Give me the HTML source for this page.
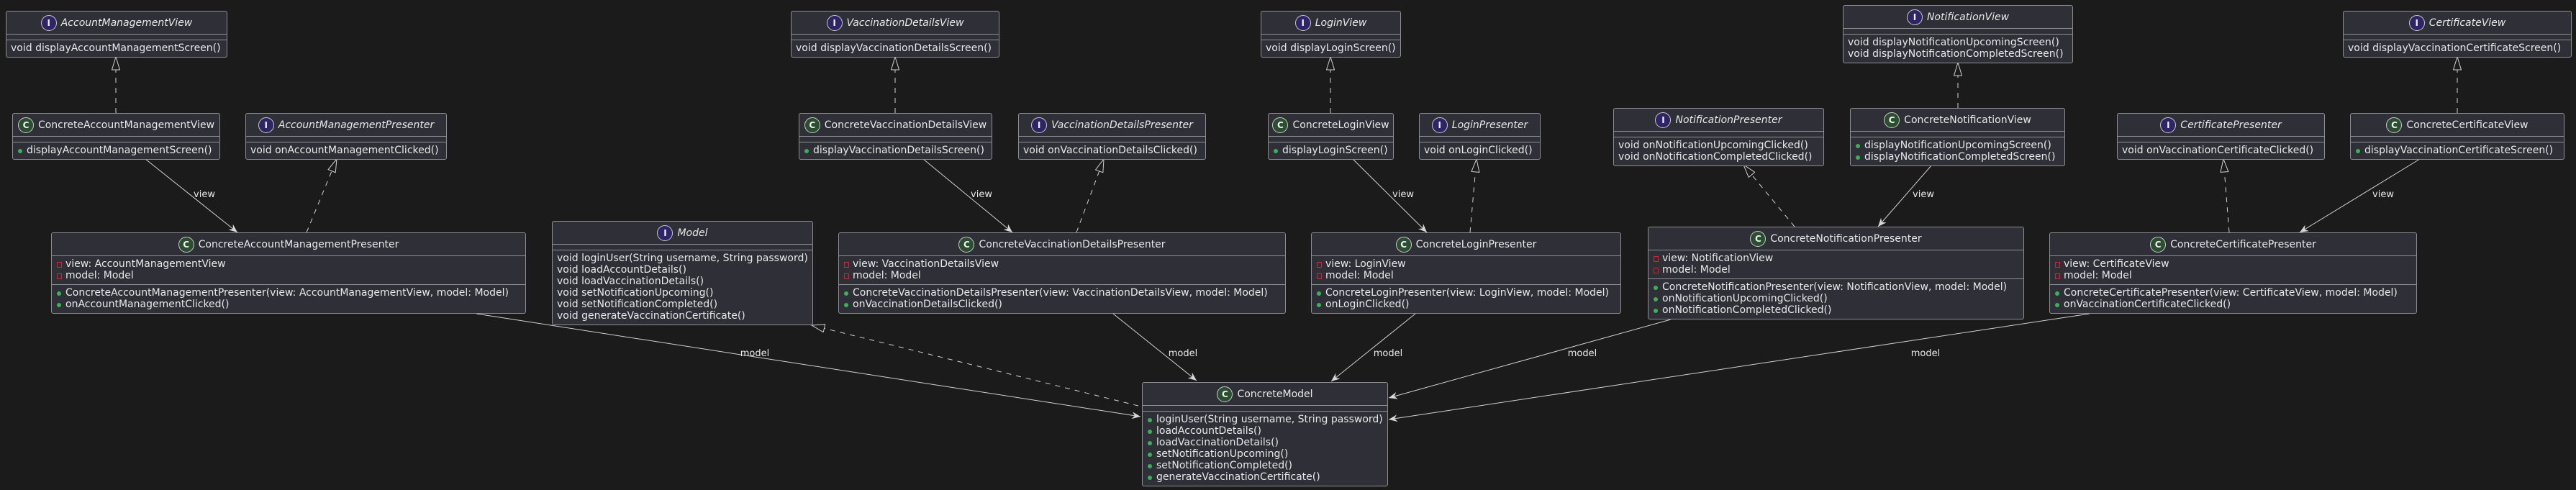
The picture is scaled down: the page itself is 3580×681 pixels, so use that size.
<!DOCTYPE html>
<html><head><meta charset="utf-8">
<style>
html,body{margin:0;padding:0;background:#1b1b1b;}
body{width:3580px;height:681px;position:relative;overflow:hidden;font-family:"DejaVu Sans","Liberation Sans",sans-serif;font-size:14px;color:#e8e8e8;}
.b{position:absolute;border:1px solid #8e8e92;background:#2f2f38;border-radius:3px;box-sizing:border-box;}
.h{height:31px;display:flex;align-items:center;justify-content:center;white-space:nowrap;}
.h i{font-style:italic;}
.ic{width:20px;height:20px;border-radius:50%;border:1px solid #c8c8c8;display:inline-flex;align-items:center;justify-content:center;font-weight:bold;font-size:12px;margin-right:6px;color:#f0f0f0;font-style:normal;flex:none;}
.I{background:#2e2466;}
.C{background:#2b4e30;}
.s{border-top:1px solid #8e8e92;padding:3px 0 4px 6px;line-height:16px;white-space:nowrap;}
.e{border-top:1px solid #8e8e92;height:7px;}
.v{padding-left:18px;position:relative;}
.p::before{content:"";position:absolute;left:-12px;top:6px;width:6px;height:6px;border-radius:50%;background:#3fae5a;}
.r::before{content:"";position:absolute;left:-12px;top:5px;width:5px;height:6px;border:1px solid #d5262e;}
.s div{position:relative;}
.s.v{padding-left:19px;}
svg{position:absolute;left:0;top:0;}
.lbl{font-family:"DejaVu Sans","Liberation Sans",sans-serif;font-size:13px;fill:#e8e8e8;}
</style></head><body>
<svg width="3580" height="681">
<defs>
<marker id="arr" viewBox="0 0 12 10" refX="12" refY="5" markerWidth="12" markerHeight="10" markerUnits="userSpaceOnUse" orient="auto"><path d="M0,0 L12,5 L0,10 L4,5 Z" fill="#d8d8d8"/></marker>
<marker id="tri" viewBox="0 0 20 12" refX="19" refY="6" markerWidth="20" markerHeight="12" markerUnits="userSpaceOnUse" orient="auto"><path d="M1,0.5 L19,6 L1,11.5 Z" fill="#1b1b1b" stroke="#d0d0d0" stroke-width="1"/></marker>
</defs>
<g stroke="#d0d0d0" stroke-width="1" fill="none">
<g stroke-dasharray="7,7" marker-end="url(#tri)">
<line x1="161" y1="157" x2="161" y2="79"/>
<line x1="426" y1="323" x2="468" y2="221"/>
<line x1="1244" y1="157" x2="1244" y2="79"/>
<line x1="1496" y1="323" x2="1534" y2="221"/>
<line x1="1849" y1="157" x2="1849" y2="79"/>
<line x1="2043" y1="323" x2="2052" y2="221"/>
<line x1="2721" y1="150" x2="2721" y2="87"/>
<line x1="2494" y1="315" x2="2423" y2="229"/>
<line x1="3415" y1="157" x2="3415" y2="79"/>
<line x1="3098" y1="323" x2="3090" y2="221"/>
<line x1="1582" y1="564" x2="1128" y2="452"/>
</g>
<g marker-end="url(#arr)">
<line x1="202" y1="221" x2="330" y2="323"/>
<line x1="1283" y1="221" x2="1407" y2="323"/>
<line x1="1880" y1="221" x2="1983" y2="323"/>
<line x1="2685" y1="229" x2="2610" y2="315"/>
<line x1="3363" y1="221" x2="3196" y2="323"/>
<line x1="662" y1="436" x2="1585" y2="579"/>
<line x1="1547" y1="436" x2="1663" y2="529"/>
<line x1="1967" y1="436" x2="1850" y2="530"/>
<line x1="2322" y1="444" x2="1930" y2="553"/>
<line x1="2904" y1="436" x2="1930" y2="583"/>
</g>
</g>
<g class="lbl" text-anchor="middle">
<text x="284" y="274">view</text>
<text x="1364" y="274">view</text>
<text x="1950" y="274">view</text>
<text x="2673" y="274">view</text>
<text x="3312" y="274">view</text>
<text x="1049" y="495">model</text>
<text x="1644" y="495">model</text>
<text x="1929" y="495">model</text>
<text x="2199" y="495">model</text>
<text x="2676" y="495">model</text>
</g>
</svg>

<!-- Account -->
<div class="b" style="left:8px;top:15px;width:308px"><div class="h"><span class="ic I">I</span><i>AccountManagementView</i></div><div class="e"></div><div class="s">void displayAccountManagementScreen()</div></div>
<div class="b" style="left:17px;top:157px;width:289px"><div class="h"><span class="ic C">C</span>ConcreteAccountManagementView</div><div class="e"></div><div class="s v"><div class="p">displayAccountManagementScreen()</div></div></div>
<div class="b" style="left:341px;top:157px;width:280px"><div class="h"><span class="ic I">I</span><i>AccountManagementPresenter</i></div><div class="e"></div><div class="s">void onAccountManagementClicked()</div></div>
<div class="b" style="left:71px;top:323px;width:660px"><div class="h"><span class="ic C">C</span>ConcreteAccountManagementPresenter</div><div class="s v"><div class="r">view: AccountManagementView</div><div class="r">model: Model</div></div><div class="s v"><div class="p">ConcreteAccountManagementPresenter(view: AccountManagementView, model: Model)</div><div class="p">onAccountManagementClicked()</div></div></div>

<!-- Model -->
<div class="b" style="left:767px;top:307px;width:363px"><div class="h"><span class="ic I">I</span><i>Model</i></div><div class="e"></div><div class="s">void loginUser(String username, String password)<br>void loadAccountDetails()<br>void loadVaccinationDetails()<br>void setNotificationUpcoming()<br>void setNotificationCompleted()<br>void generateVaccinationCertificate()</div></div>

<!-- Vaccination -->
<div class="b" style="left:1099px;top:15px;width:290px"><div class="h"><span class="ic I">I</span><i>VaccinationDetailsView</i></div><div class="e"></div><div class="s">void displayVaccinationDetailsScreen()</div></div>
<div class="b" style="left:1110px;top:157px;width:269px"><div class="h"><span class="ic C">C</span>ConcreteVaccinationDetailsView</div><div class="e"></div><div class="s v"><div class="p">displayVaccinationDetailsScreen()</div></div></div>
<div class="b" style="left:1415px;top:157px;width:261px"><div class="h"><span class="ic I">I</span><i>VaccinationDetailsPresenter</i></div><div class="e"></div><div class="s">void onVaccinationDetailsClicked()</div></div>
<div class="b" style="left:1165px;top:323px;width:622px"><div class="h"><span class="ic C">C</span>ConcreteVaccinationDetailsPresenter</div><div class="s v"><div class="r">view: VaccinationDetailsView</div><div class="r">model: Model</div></div><div class="s v"><div class="p">ConcreteVaccinationDetailsPresenter(view: VaccinationDetailsView, model: Model)</div><div class="p">onVaccinationDetailsClicked()</div></div></div>

<!-- Login -->
<div class="b" style="left:1752px;top:15px;width:195px"><div class="h"><span class="ic I">I</span><i>LoginView</i></div><div class="e"></div><div class="s">void displayLoginScreen()</div></div>
<div class="b" style="left:1762px;top:157px;width:175px"><div class="h"><span class="ic C">C</span>ConcreteLoginView</div><div class="e"></div><div class="s v"><div class="p">displayLoginScreen()</div></div></div>
<div class="b" style="left:1972px;top:157px;width:169px"><div class="h"><span class="ic I">I</span><i>LoginPresenter</i></div><div class="e"></div><div class="s">void onLoginClicked()</div></div>
<div class="b" style="left:1822px;top:323px;width:431px"><div class="h"><span class="ic C">C</span>ConcreteLoginPresenter</div><div class="s v"><div class="r">view: LoginView</div><div class="r">model: Model</div></div><div class="s v"><div class="p">ConcreteLoginPresenter(view: LoginView, model: Model)</div><div class="p">onLoginClicked()</div></div></div>

<!-- Notification -->
<div class="b" style="left:2561px;top:7px;width:320px"><div class="h"><span class="ic I">I</span><i>NotificationView</i></div><div class="e"></div><div class="s">void displayNotificationUpcomingScreen()<br>void displayNotificationCompletedScreen()</div></div>
<div class="b" style="left:2242px;top:150px;width:293px"><div class="h"><span class="ic I">I</span><i>NotificationPresenter</i></div><div class="e"></div><div class="s">void onNotificationUpcomingClicked()<br>void onNotificationCompletedClicked()</div></div>
<div class="b" style="left:2571px;top:150px;width:299px"><div class="h"><span class="ic C">C</span>ConcreteNotificationView</div><div class="e"></div><div class="s v"><div class="p">displayNotificationUpcomingScreen()</div><div class="p">displayNotificationCompletedScreen()</div></div></div>
<div class="b" style="left:2290px;top:315px;width:523px"><div class="h"><span class="ic C">C</span>ConcreteNotificationPresenter</div><div class="s v"><div class="r">view: NotificationView</div><div class="r">model: Model</div></div><div class="s v"><div class="p">ConcreteNotificationPresenter(view: NotificationView, model: Model)</div><div class="p">onNotificationUpcomingClicked()</div><div class="p">onNotificationCompletedClicked()</div></div></div>

<!-- Certificate -->
<div class="b" style="left:3256px;top:15px;width:318px"><div class="h"><span class="ic I">I</span><i>CertificateView</i></div><div class="e"></div><div class="s">void displayVaccinationCertificateScreen()</div></div>
<div class="b" style="left:2942px;top:157px;width:289px"><div class="h"><span class="ic I">I</span><i>CertificatePresenter</i></div><div class="e"></div><div class="s">void onVaccinationCertificateClicked()</div></div>
<div class="b" style="left:3266px;top:157px;width:298px"><div class="h"><span class="ic C">C</span>ConcreteCertificateView</div><div class="e"></div><div class="s v"><div class="p">displayVaccinationCertificateScreen()</div></div></div>
<div class="b" style="left:2848px;top:323px;width:511px"><div class="h"><span class="ic C">C</span>ConcreteCertificatePresenter</div><div class="s v"><div class="r">view: CertificateView</div><div class="r">model: Model</div></div><div class="s v"><div class="p">ConcreteCertificatePresenter(view: CertificateView, model: Model)</div><div class="p">onVaccinationCertificateClicked()</div></div></div>

<!-- ConcreteModel -->
<div class="b" style="left:1587px;top:531px;width:342px"><div class="h"><span class="ic C">C</span>ConcreteModel</div><div class="e"></div><div class="s v"><div class="p">loginUser(String username, String password)</div><div class="p">loadAccountDetails()</div><div class="p">loadVaccinationDetails()</div><div class="p">setNotificationUpcoming()</div><div class="p">setNotificationCompleted()</div><div class="p">generateVaccinationCertificate()</div></div></div>
</body></html>
